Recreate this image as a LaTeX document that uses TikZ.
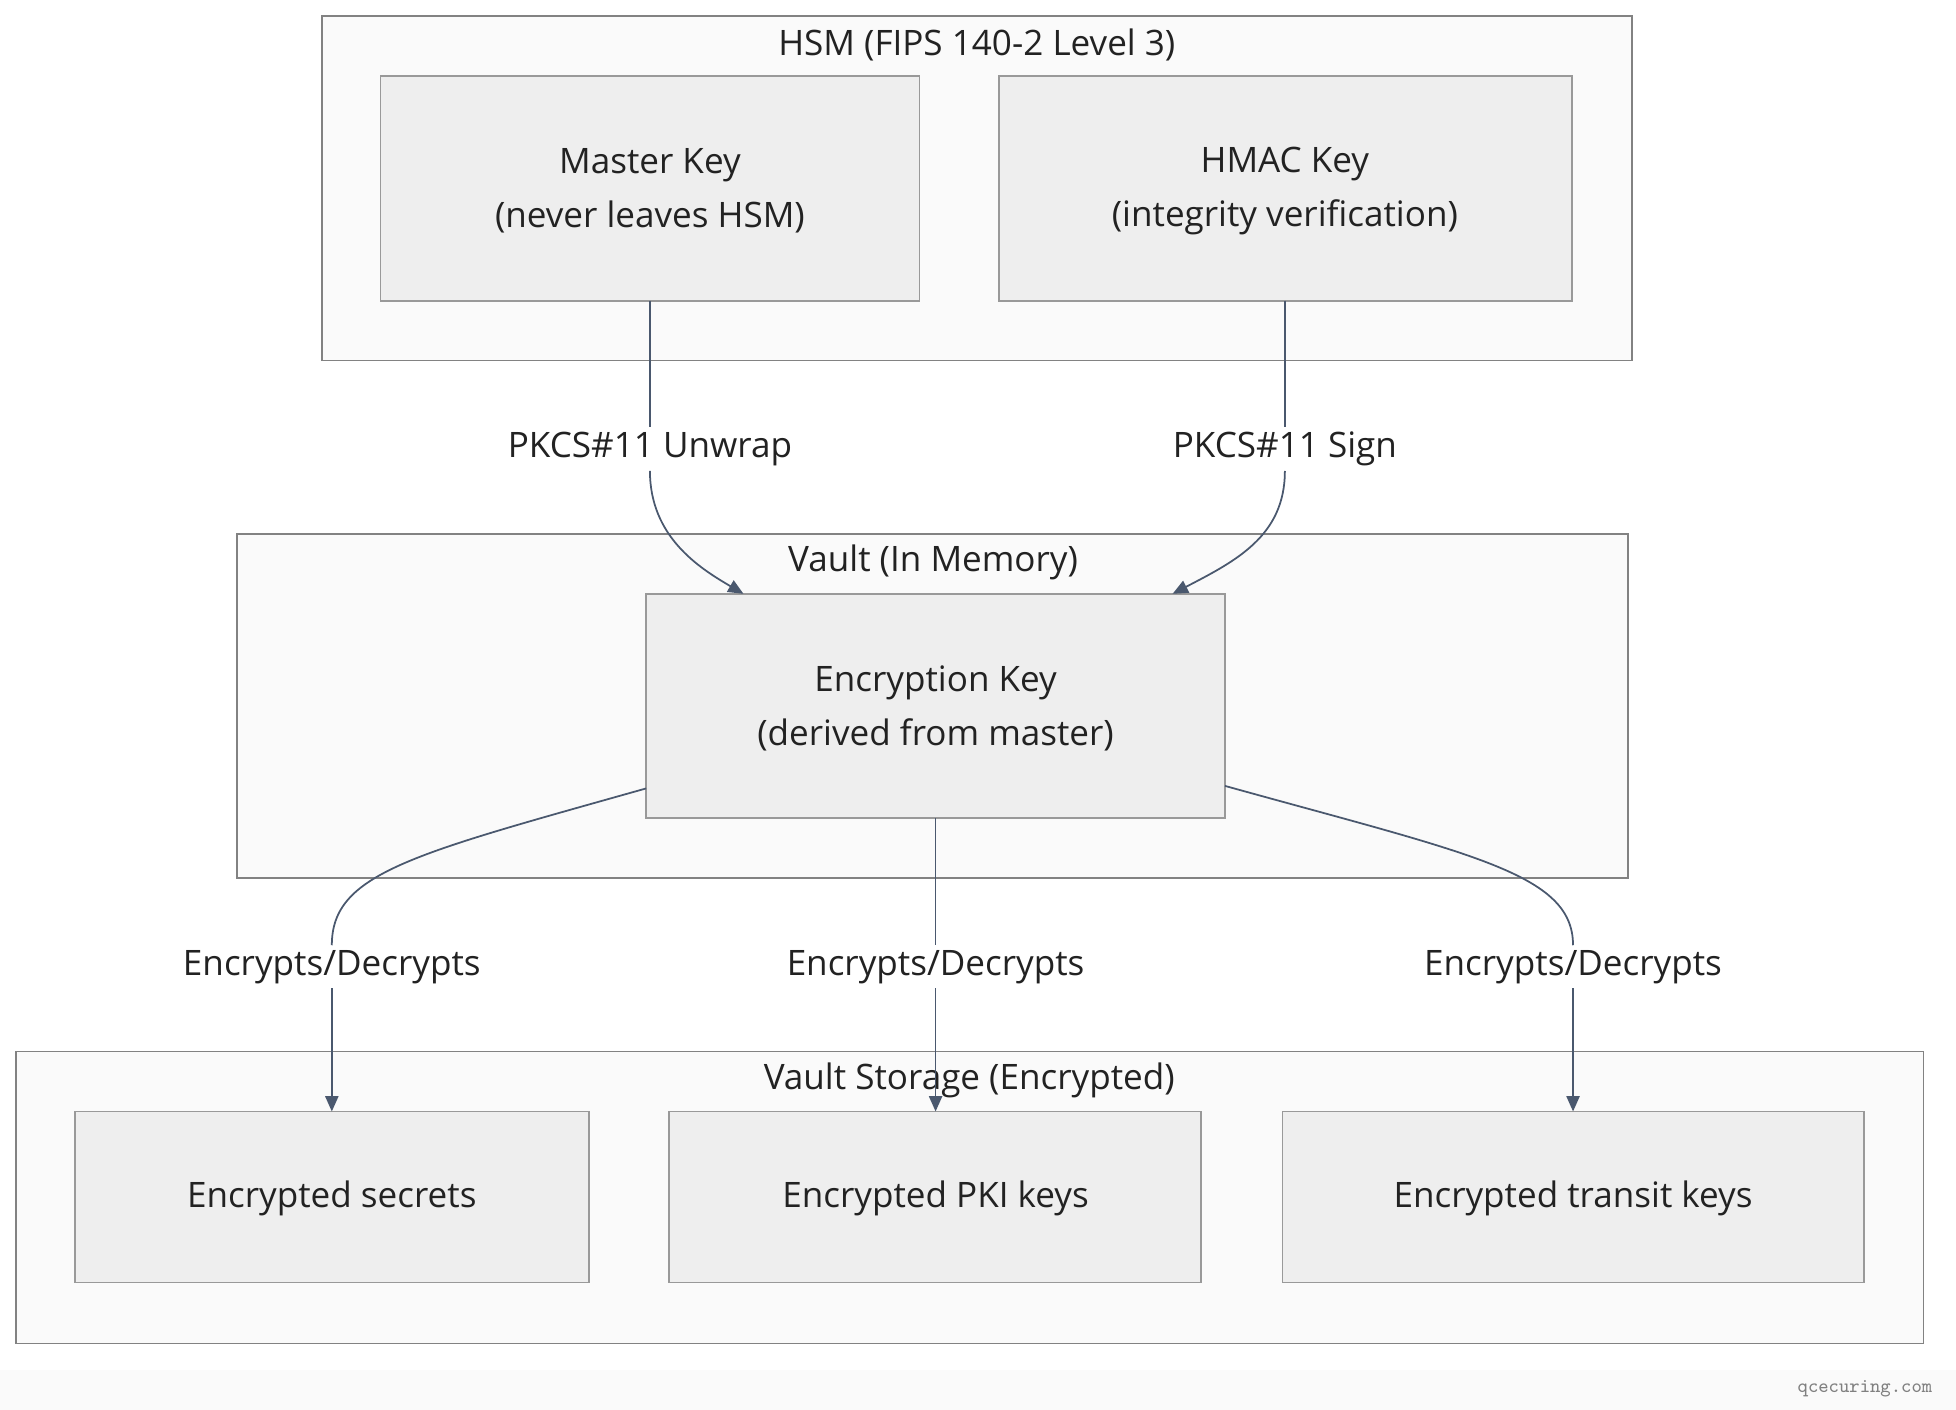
\documentclass[tikz,border=0pt]{standalone}
\usepackage{fontspec}
\setmainfont{Open Sans}
\usetikzlibrary{arrows.meta}
\definecolor{VaultBoxFill}{RGB}{238,238,238}
\definecolor{VaultBoxLine}{RGB}{153,153,153}
\definecolor{VaultGrpFill}{RGB}{250,250,250}
\definecolor{VaultGrpLine}{RGB}{130,130,130}
\definecolor{VaultEdge}{RGB}{74,88,110}
\definecolor{VaultText}{RGB}{34,34,34}
\begin{document}
\begin{tikzpicture}[x=0.02cm,y=-0.02cm,font=\fontsize{16}{24.5}\selectfont,text=VaultText,
grp/.style={draw=VaultGrpLine,fill=VaultGrpFill,line width=0.8pt},
keybox/.style={draw=VaultBoxLine,fill=VaultBoxFill,line width=0.8pt},
lbl/.style={fill=white,inner sep=2pt,align=center},
edge/.style={draw=VaultEdge,line width=0.8pt},
arr/.style={edge,-{Triangle[width=6pt,length=7pt]}}]
\useasboundingbox (0,0) rectangle (1568,1130);
\fill[VaultGrpFill] (0,1098) rectangle (1568,1130);
\node[text=gray,font=\ttfamily\small] (brand) at (1495,1113) {qcecuring.com};
% clusters
\draw[grp] (258,13) rectangle (1308,289);
\node (hsm) at (783,36) {HSM (FIPS 140-2 Level 3)};
\draw[grp] (190,428) rectangle (1305,704);
\node (mem) at (748,451) {Vault (In Memory)};
\draw[grp] (13,843) rectangle (1542,1077);
\node (store) at (777,866) {Vault Storage (Encrypted)};
% keys
\draw[keybox] (305,61) rectangle (737,241);
\node[align=center] (master) at (521,153) {Master Key\\(never leaves HSM)};
\draw[keybox] (801,61) rectangle (1260,241);
\node[align=center] (hmac) at (1030,153) {HMAC Key\\(integrity verification)};
\draw[keybox] (518,476) rectangle (982,656);
\node[align=center] (enc) at (750,568) {Encryption Key\\(derived from master)};
\draw[keybox] (60,891) rectangle (472,1028);
\node (secrets) at (266,961) {Encrypted secrets};
\draw[keybox] (536,891) rectangle (963,1028);
\node (pki) at (750,961) {Encrypted PKI keys};
\draw[keybox] (1028,891) rectangle (1494,1028);
\node (transit) at (1261,961) {Encrypted transit keys};
% anchor points
\coordinate (mk) at (521,241);
\coordinate (hk) at (1030,241);
\coordinate (ekin1) at (596,476);
\coordinate (ekin2) at (940,476);
\coordinate (ekl) at (518,632);
\coordinate (ekm) at (750,656);
\coordinate (ekr) at (982,630);
\coordinate (sin1) at (266,891);
\coordinate (sin2) at (750,891);
\coordinate (sin3) at (1261,891);
% edge labels
\node[lbl] (unwrap) at (521,360) {PKCS\#11 Unwrap};
\node[lbl] (sign) at (1030,360) {PKCS\#11 Sign};
\node[lbl] (ed1) at (266,775) {Encrypts/Decrypts};
\node[lbl] (ed2) at (750,775) {Encrypts/Decrypts};
\node[lbl] (ed3) at (1261,775) {Encrypts/Decrypts};
% connectors
\draw[edge] (mk) -- (unwrap.north);
\draw[arr] (unwrap.south) .. controls (521,430) and (560,455) .. (ekin1);
\draw[edge] (hk) -- (sign.north);
\draw[arr] (sign.south) .. controls (1030,430) and (990,450) .. (ekin2);
\draw[edge] (ekl) .. controls (330,685) and (266,700) .. (ed1.north);
\draw[arr] (ed1.south) -- (sin1);
\draw[edge] (ekm) -- (ed2.north);
\draw[arr] (ed2.south) -- (sin2);
\draw[edge] (ekr) .. controls (1180,685) and (1261,700) .. (ed3.north);
\draw[arr] (ed3.south) -- (sin3);
\end{tikzpicture}
\end{document}
